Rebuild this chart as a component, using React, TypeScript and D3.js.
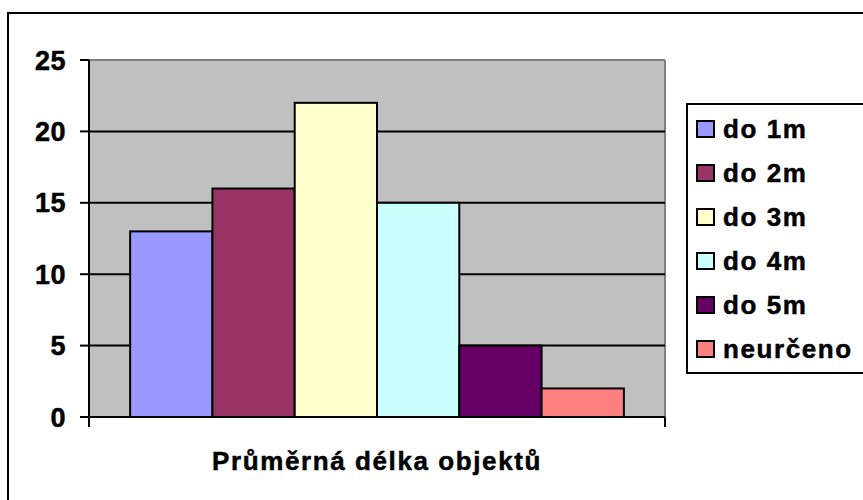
import React from "react";
import * as d3 from "d3";

const seriesNames = ["do 1m", "do 2m", "do 3m", "do 4m", "do 5m", "neurčeno"];
const seriesValues = [13, 16, 22, 15, 5, 2];
const seriesColors = ["#9999FF", "#993366", "#FFFFCC", "#CCFFFF", "#660066", "#FF8080"];
const yTicks = [0, 5, 10, 15, 20, 25];
const categoryLabel = "Průměrná délka objektů";

const W = 863;
const H = 500;
const plot = { left: 89, right: 665, top: 60, bottom: 417 };
const FONT = "'Liberation Sans', Arial, sans-serif";

export default function App() {
  const y = d3.scaleLinear().domain([0, 25]).range([plot.bottom, plot.top]);
  const x = d3
    .scaleBand<string>()
    .domain(seriesNames)
    .range([plot.left, plot.right])
    .paddingInner(0)
    .paddingOuter(0.5);

  const legendTop = 104;
  const legendBottom = 373;
  const legendLeft = 687;

  const textProps = {
    fontFamily: FONT,
    fontWeight: "bold" as const,
    fill: "#000",
    stroke: "#000",
    strokeWidth: 0.5,
  };

  return (
    <svg
      width={W}
      height={H}
      style={{ position: "absolute", left: 0, top: 0, background: "#fff" }}
    >
      <rect x={8} y={13} width={900} height={600} fill="#fff" stroke="#000" strokeWidth={2} />

      <rect
        x={plot.left}
        y={plot.top}
        width={plot.right - plot.left}
        height={plot.bottom - plot.top}
        fill="#C0C0C0"
      />
      <line x1={plot.left} x2={plot.right} y1={plot.top} y2={plot.top} stroke="#808080" strokeWidth={2} />
      <line x1={plot.right} x2={plot.right} y1={plot.top} y2={plot.bottom} stroke="#808080" strokeWidth={2} />

      {yTicks
        .filter((t) => t > 0 && t < 25)
        .map((t) => (
          <line
            key={"g" + t}
            x1={plot.left}
            x2={plot.right}
            y1={y(t)}
            y2={y(t)}
            stroke="#000"
            strokeWidth={2}
          />
        ))}

      {seriesNames.map((n, i) => (
        <rect
          key={n}
          x={x(n)!}
          y={y(seriesValues[i])}
          width={x.bandwidth()}
          height={y(0) - y(seriesValues[i])}
          fill={seriesColors[i]}
          stroke="#000"
          strokeWidth={2}
        />
      ))}

      <line x1={plot.left} x2={plot.left} y1={plot.top} y2={plot.bottom + 10} stroke="#000" strokeWidth={2} />
      <line x1={plot.left - 9} x2={plot.right} y1={plot.bottom} y2={plot.bottom} stroke="#000" strokeWidth={2} />
      <line x1={plot.right} x2={plot.right} y1={plot.bottom} y2={plot.bottom + 10} stroke="#000" strokeWidth={2} />
      {yTicks.map((t) => (
        <g key={"t" + t}>
          <line x1={plot.left - 9} x2={plot.left} y1={y(t)} y2={y(t)} stroke="#000" strokeWidth={2} />
          <text x={66} y={y(t) + 9.5} textAnchor="end" fontSize={27} letterSpacing={0.5} {...textProps}>
            {t}
          </text>
        </g>
      ))}

      <text
        x={(plot.left + plot.right) / 2}
        y={470}
        textAnchor="middle"
        fontSize={26}
        letterSpacing={1.6}
        {...textProps}
      >
        {categoryLabel}
      </text>

      <rect
        x={legendLeft}
        y={legendTop}
        width={300}
        height={legendBottom - legendTop}
        fill="#fff"
        stroke="#000"
        strokeWidth={2}
      />
      {seriesNames.map((n, i) => {
        const base = 138 + i * 44;
        return (
          <g key={"l" + n}>
            <rect x={697} y={base - 17} width={17} height={16} fill={seriesColors[i]} stroke="#000" strokeWidth={2} />
            <text x={723} y={base} fontSize={26} letterSpacing={1.6} {...textProps}>
              {n}
            </text>
          </g>
        );
      })}
    </svg>
  );
}
